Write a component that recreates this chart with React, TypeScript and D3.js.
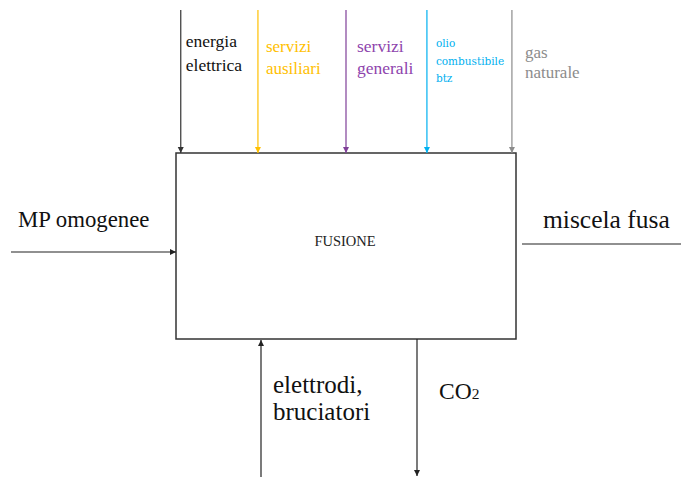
import React from 'react';
import * as d3 from 'd3';

// inputs coming from the top of the process box
const topInputs = ["energia\nelettrica", "servizi\nausiliari", "servizi\ngenerali", "olio\ncombustibile\nbtz", "gas\nnaturale"];
const topColors = ["#111111", "#FFC000", "#8E44AD", "#00B0F0", "#8c8c8c"];
const arrowColors = ["#333333", "#FFC000", "#7F3F98", "#00B0F0", "#8c8c8c"];
const processName = "FUSIONE";
const leftInput = "MP omogenee";
const rightOutput = "miscela fusa";
const bottomInput = "elettrodi,\nbruciatori";
const bottomOutput = "CO";

const W = 681;
const H = 477;
const box = { x0: 176, y0: 153, x1: 516, y1: 339 };
// x positions of the top arrows, as fraction of the box width
const topX = [0.014, 0.241, 0.5, 0.738, 0.988];
const topFont = [17.5, 17, 17.5, 10.5, 17];
const topFamily = ["Liberation Serif", "Liberation Serif", "Liberation Serif", "DejaVu Serif", "Liberation Serif"];
const topLineH = [24, 22, 22, 17.5, 20];
const topBase = [47, 52, 52, 47, 58];
const topOff = [5, 8, 11, 9, 13];

const SERIF = "Liberation Serif";

const Arrow: React.FC<{ x1: number; y1: number; x2: number; y2: number; color: string }> = ({ x1, y1, x2, y2, color }) => {
    const a = Math.atan2(y2 - y1, x2 - x1);
    const len = 6, half = 3;
    const p = d3.path();
    p.moveTo(x2, y2);
    p.lineTo(x2 - len * Math.cos(a) + half * Math.sin(a), y2 - len * Math.sin(a) - half * Math.cos(a));
    p.lineTo(x2 - len * Math.cos(a) - half * Math.sin(a), y2 - len * Math.sin(a) + half * Math.cos(a));
    p.closePath();
    return (
        <g>
            <line x1={x1} y1={y1} x2={x2} y2={y2} stroke={color} strokeWidth={1.2} />
            <path d={p.toString()} fill={color} />
        </g>
    );
};

export default function App() {
    const xs = d3.scaleLinear().domain([0, 1]).range([box.x0, box.x1]);

    return (
        <svg width={W} height={H} style={{ position: 'absolute', left: 0, top: 0, background: '#fff' }}>
            <rect x={box.x0} y={box.y0} width={box.x1 - box.x0} height={box.y1 - box.y0} fill="none" stroke="#333" strokeWidth={1.5} />
            <text x={345} y={246} textAnchor="middle" fontSize={14.5} fill="#222" fontFamily={SERIF}>{processName}</text>

            {topInputs.map((lab, i) => {
                const x = xs(topX[i]);
                return (
                    <g key={i}>
                        <Arrow x1={x} y1={10} x2={x} y2={box.y0} color={arrowColors[i]} />
                        <text fontSize={topFont[i]} fill={topColors[i]} fontFamily={topFamily[i]}>
                            {lab.split("\n").map((s, j) => (
                                <tspan key={j} x={x + topOff[i]} y={topBase[i] + j * topLineH[i]}>{s}</tspan>
                            ))}
                        </text>
                    </g>
                );
            })}

            <Arrow x1={11} y1={252} x2={box.x0} y2={252} color="#222" />
            <text x={18} y={227} fontSize={22.8} fill="#111" fontFamily={SERIF}>{leftInput}</text>

            <line x1={522} y1={244} x2={W} y2={244} stroke="#222" strokeWidth={1.2} />
            <text x={543} y={228} fontSize={25.5} fill="#111" fontFamily={SERIF}>{rightOutput}</text>

            <Arrow x1={261} y1={H} x2={261} y2={box.y1 + 1} color="#222" />
            <text fontSize={25} fill="#111" fontFamily={SERIF}>
                {bottomInput.split("\n").map((s, j) => (
                    <tspan key={j} x={273} y={393 + j * 27}>{s}</tspan>
                ))}
            </text>

            <Arrow x1={417} y1={box.y1} x2={417} y2={H - 1} color="#222" />
            <text x={439} y={399} fontSize={23.5} fill="#111" fontFamily={SERIF}>
                {bottomOutput}<tspan fontSize={15.5}>2</tspan>
            </text>
        </svg>
    );
}
